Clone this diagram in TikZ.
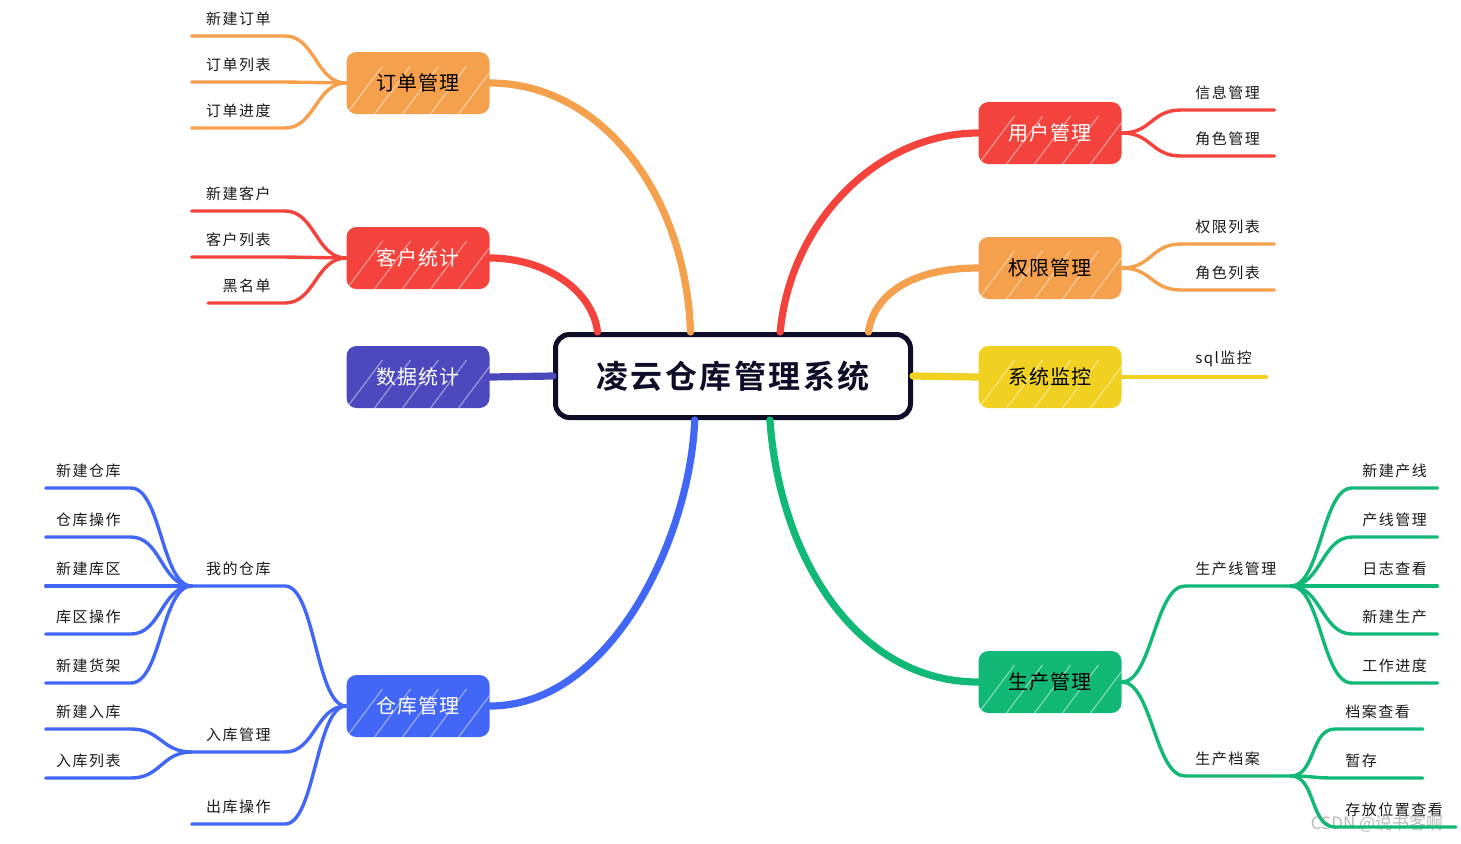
\documentclass[tikz,border=0pt]{standalone}
\usepackage{fontspec}
\setmainfont{Noto Sans CJK SC}
\newfontfamily\leaffont[LetterSpace=10]{Noto Sans CJK SC}
\newfontfamily\boxfont[LetterSpace=6]{Noto Sans CJK SC}
\newfontfamily\titlefont[LetterSpace=8,BoldFont={Noto Sans CJK SC Bold}]{Noto Sans CJK SC}

\definecolor{cOrange}{RGB}{245,160,77}
\definecolor{cRed}{RGB}{244,67,60}
\definecolor{cIndigo}{RGB}{76,73,190}
\definecolor{cBlue}{RGB}{66,102,245}
\definecolor{cYellow}{RGB}{240,208,32}
\definecolor{cGreen}{RGB}{18,184,118}
\definecolor{cInk}{RGB}{14,14,40}

\begin{document}
\begin{tikzpicture}[x=0.5pt, y=-0.5pt,
    root/.style={draw=cInk, line width=2.5pt, fill=white, rounded corners=7pt,
        minimum width=177.5pt, minimum height=41.5pt, text=cInk,
        font=\titlefont\bfseries\fontsize{16}{18}\selectfont},
    topic/.style={fill=#1, rounded corners=5pt, minimum width=71.5pt,
        minimum height=31pt, font=\boxfont\fontsize{10}{12}\selectfont,
        path picture={
            \foreach \k in {0,14,...,84}
                \draw[white, opacity=.45, line width=.6pt]
                    ([xshift=\k pt]path picture bounding box.south west) -- ++(18pt,24pt);
        }},
    branch/.style={draw=#1, line width=3.6pt, line cap=round},
    twig/.style={draw=#1, line width=1.7pt, line cap=round},
    leaf/.style={inner xsep=5pt, inner ysep=5pt, text=black!90,
        font=\leaffont\fontsize{7.5}{9}\selectfont},
    wide/.style={inner xsep=7pt}]
        \useasboundingbox (0,0) rectangle (1461,843);

        % 中心
        \node[root] (root) at (733,376) {凌云仓库管理系统};

        % 主题
        \node[topic=cOrange] (order) at (418,83) {订单管理};
        \node[topic=cRed, text=white] (cust) at (418,258) {客户统计};
        \node[topic=cIndigo, text=white] (data) at (418,377) {数据统计};
        \node[topic=cBlue, text=white] (store) at (418,706) {仓库管理};
        \node[topic=cRed, text=white] (user) at (1050,133) {用户管理};
        \node[topic=cOrange] (perm) at (1050,268) {权限管理};
        \node[topic=cYellow] (mon) at (1050,377) {系统监控};
        \node[topic=cGreen] (prod) at (1050,682) {生产管理};

        % 左侧子项
        \node[leaf, wide, anchor=south east] (o1) at (285,36) {新建订单};
        \node[leaf, wide, anchor=south east] (o2) at (285,82) {订单列表};
        \node[leaf, wide, anchor=south east] (o3) at (285,128) {订单进度};
        \node[leaf, wide, anchor=south east] (c1) at (285,211) {新建客户};
        \node[leaf, wide, anchor=south east] (c2) at (285,257) {客户列表};
        \node[leaf, wide, anchor=south east] (c3) at (285,303) {黑名单};
        \node[leaf, wide, anchor=south east] (w1) at (285,586) {我的仓库};
        \node[leaf, wide, anchor=south east] (w2) at (285,752) {入库管理};
        \node[leaf, wide, anchor=south east] (w3) at (285,824) {出库操作};
        \node[leaf, anchor=south east] (w11) at (131,488) {新建仓库};
        \node[leaf, anchor=south east] (w12) at (131,537) {仓库操作};
        \node[leaf, anchor=south east] (w13) at (131,586) {新建库区};
        \node[leaf, anchor=south east] (w14) at (131,634) {库区操作};
        \node[leaf, anchor=south east] (w15) at (131,683) {新建货架};
        \node[leaf, anchor=south east] (w21) at (131,729) {新建入库};
        \node[leaf, anchor=south east] (w22) at (131,778) {入库列表};

        % 右侧子项
        \node[leaf, wide, anchor=south west] (u1) at (1181,110) {信息管理};
        \node[leaf, wide, anchor=south west] (u2) at (1181,156) {角色管理};
        \node[leaf, wide, anchor=south west] (p1) at (1181,244) {权限列表};
        \node[leaf, wide, anchor=south west] (p2) at (1181,290) {角色列表};
        \node[leaf, wide, anchor=south west] (s1) at (1181,377) {sql监控};
        \node[leaf, text width=42.5pt, anchor=south west] (g1) at (1185,586) {生产线管理};
        \node[leaf, text width=42.5pt, anchor=south west] (g2) at (1185,776) {生产档案};
        \node[leaf, anchor=south west] (g11) at (1352,488) {新建产线};
        \node[leaf, anchor=south west] (g12) at (1352,537) {产线管理};
        \node[leaf, anchor=south west] (g13) at (1352,586) {日志查看};
        \node[leaf, anchor=south west] (g14) at (1352,634) {新建生产};
        \node[leaf, anchor=south west] (g15) at (1352,683) {工作进度};
        \node[leaf, text width=33.5pt, anchor=south west] (g21) at (1335,729) {档案查看};
        \node[leaf, text width=33.5pt, anchor=south west] (g22) at (1335,778) {暂存};
        \node[leaf, text width=50pt, anchor=south west] (g23) at (1335,827) {存放位置查看};

        \node[text=gray!55, font=\fontsize{8.5}{10}\selectfont] (mark) at (1377,824) {CSDN @说书客啊};

        % 主干
        \draw[branch=cOrange] (order.east) .. controls +(110,0) and +(-5,-140) .. (root.134);
        \draw[branch=cRed] (cust.east) .. controls +(55,0) and +(-5,-42) .. (root.162);
        \draw[branch=cIndigo] (data.east) -- (root.west);
        \draw[branch=cBlue] (store.east) .. controls +(120,0) and +(-5,120) .. (root.229);
        \draw[branch=cRed] (user.west) .. controls +(-100,0) and +(10,-110) .. (root.43);
        \draw[branch=cOrange] (perm.west) .. controls +(-70,0) and +(5,-35) .. (root.18);
        \draw[branch=cYellow] (mon.west) -- (root.east);
        \draw[branch=cGreen] (prod.west) .. controls +(-120,0) and +(10,140) .. (root.310);

        % 订单管理
        \draw[twig=cOrange] (order.west) .. controls +(-30,0) and +(30,0) .. (o1.south east) -- (o1.south west);
        \draw[twig=cOrange] (order.west) .. controls +(-30,0) and +(30,0) .. (o2.south east) -- (o2.south west);
        \draw[twig=cOrange] (order.west) .. controls +(-30,0) and +(30,0) .. (o3.south east) -- (o3.south west);

        % 客户统计
        \draw[twig=cRed] (cust.west) .. controls +(-30,0) and +(30,0) .. (c1.south east) -- (c1.south west);
        \draw[twig=cRed] (cust.west) .. controls +(-30,0) and +(30,0) .. (c2.south east) -- (c2.south west);
        \draw[twig=cRed] (cust.west) .. controls +(-30,0) and +(30,0) .. (c3.south east) -- (c3.south west);

        % 仓库管理
        \draw[twig=cBlue] (store.west) .. controls +(-30,0) and +(30,0) .. (w1.south east) -- (w1.south west);
        \draw[twig=cBlue] (store.west) .. controls +(-30,0) and +(30,0) .. (w2.south east) -- (w2.south west);
        \draw[twig=cBlue] (store.west) .. controls +(-30,0) and +(30,0) .. (w3.south east) -- (w3.south west);
        \draw[twig=cBlue] (w1.south west) .. controls +(-30,0) and +(30,0) .. (w11.south east) -- (w11.south west);
        \draw[twig=cBlue] (w1.south west) .. controls +(-30,0) and +(30,0) .. (w12.south east) -- (w12.south west);
        \draw[twig=cBlue] (w1.south west) .. controls +(-30,0) and +(30,0) .. (w13.south east) -- (w13.south west);
        \draw[twig=cBlue] (w1.south west) .. controls +(-30,0) and +(30,0) .. (w14.south east) -- (w14.south west);
        \draw[twig=cBlue] (w1.south west) .. controls +(-30,0) and +(30,0) .. (w15.south east) -- (w15.south west);
        \draw[twig=cBlue] (w2.south west) .. controls +(-30,0) and +(30,0) .. (w21.south east) -- (w21.south west);
        \draw[twig=cBlue] (w2.south west) .. controls +(-30,0) and +(30,0) .. (w22.south east) -- (w22.south west);

        % 用户管理 / 权限管理 / 系统监控
        \draw[twig=cRed] (user.east) .. controls +(30,0) and +(-30,0) .. (u1.south west) -- (u1.south east);
        \draw[twig=cRed] (user.east) .. controls +(30,0) and +(-30,0) .. (u2.south west) -- (u2.south east);
        \draw[twig=cOrange] (perm.east) .. controls +(30,0) and +(-30,0) .. (p1.south west) -- (p1.south east);
        \draw[twig=cOrange] (perm.east) .. controls +(30,0) and +(-30,0) .. (p2.south west) -- (p2.south east);
        \draw[twig=cYellow] (mon.east) -- (s1.south west) -- (s1.south east);

        % 生产管理
        \draw[twig=cGreen] (prod.east) .. controls +(30,0) and +(-30,0) .. (g1.south west) -- (g1.south east);
        \draw[twig=cGreen] (prod.east) .. controls +(30,0) and +(-30,0) .. (g2.south west) -- (g2.south east);
        \draw[twig=cGreen] (g1.south east) .. controls +(30,0) and +(-30,0) .. (g11.south west) -- (g11.south east);
        \draw[twig=cGreen] (g1.south east) .. controls +(30,0) and +(-30,0) .. (g12.south west) -- (g12.south east);
        \draw[twig=cGreen] (g1.south east) .. controls +(30,0) and +(-30,0) .. (g13.south west) -- (g13.south east);
        \draw[twig=cGreen] (g1.south east) .. controls +(30,0) and +(-30,0) .. (g14.south west) -- (g14.south east);
        \draw[twig=cGreen] (g1.south east) .. controls +(30,0) and +(-30,0) .. (g15.south west) -- (g15.south east);
        \draw[twig=cGreen] (g2.south east) .. controls +(25,0) and +(-25,0) .. (g21.south west) -- (g21.south east);
        \draw[twig=cGreen] (g2.south east) .. controls +(25,0) and +(-25,0) .. (g22.south west) -- (g22.south east);
        \draw[twig=cGreen] (g2.south east) .. controls +(25,0) and +(-25,0) .. (g23.south west) -- (g23.south east);
    \end{tikzpicture}
\end{document}
